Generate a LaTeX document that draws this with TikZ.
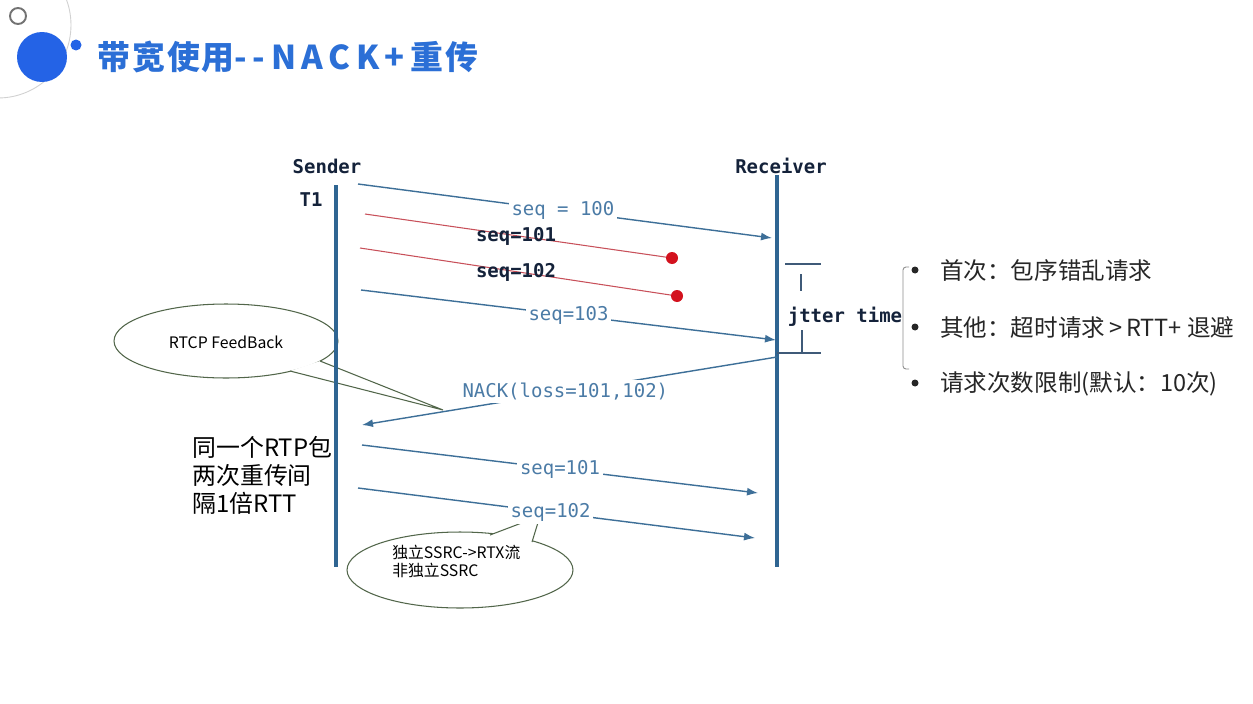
\documentclass[tikz,border=0pt]{standalone}
\usepackage{fontspec}
\setmainfont{Noto Sans CJK SC}
\newfontfamily\cjk{Noto Sans CJK SC}
\newfontfamily\titlecjk[LetterSpace=6]{Noto Sans CJK SC}
\newfontfamily\titlelat[LetterSpace=17]{Noto Sans CJK SC}
\newfontfamily\pix{DejaVu Sans Mono}
\newfontfamily\cons{DejaVu Sans Mono}
\usetikzlibrary{arrows.meta}
\definecolor{titleblue}{HTML}{2B6FD6}
\definecolor{dotblue}{HTML}{2463E6}
\definecolor{life}{HTML}{2F6592}
\definecolor{msg}{HTML}{3D6F98}
\definecolor{msgtxt}{HTML}{4B7BA6}
\definecolor{pixtxt}{HTML}{14223A}
\definecolor{redl}{HTML}{C8505A}
\definecolor{redd}{HTML}{D3121E}
\definecolor{calloutc}{HTML}{52664A}
\definecolor{jit}{HTML}{3F5A78}
\begin{document}
\begin{tikzpicture}[x=0.02cm,y=-0.02cm,
  msgarrow/.style={draw=msg, line width=0.8pt, -{Latex[length=2.2mm,width=1.6mm]}},
  msglabel/.style={fill=white, inner sep=1.5pt, text=msgtxt, font=\cons\fontsize{10.8}{12}\selectfont},
  pixlabel/.style={inner sep=0pt, text=pixtxt, font=\pix\bfseries\fontsize{10.8}{12}\selectfont},
  lost/.style={draw=redl, line width=0.6pt},
  lostdot/.style={circle, fill=redd, minimum size=0.24cm, inner sep=0pt},
  lifeline/.style={draw=life, line width=2.2pt},
  calloutline/.style={draw=calloutc, line width=0.6pt},
  jitline/.style={draw=jit, line width=0.6pt},
  bullettext/.style={anchor=west, inner sep=0pt, font=\cjk\fontsize{13.4}{15}\selectfont, text=black!85},
  bulletdot/.style={circle, fill=black!85, minimum size=0.14cm, inner sep=0pt},
  calltext/.style={inner sep=0pt, font=\cjk\fontsize{9}{10.3}\selectfont, text=black},
]
% canvas
\fill[white] (0,0) rectangle (1253,703);
\useasboundingbox (0,0) rectangle (1253,703);

% decoration
\draw[black!18, line width=0.5pt] (-2,25) circle[radius=1.46cm];
\draw[black!55, line width=1.1pt] (18,16) circle[radius=0.16cm];
\fill[dotblue] (42,57) circle[radius=0.5cm];
\fill[dotblue] (76,45) circle[radius=0.11cm];

% title
\node[anchor=west, inner sep=0pt, text=titleblue] (title) at (97,57)
  {\titlecjk\bfseries\fontsize{18.7}{20}\selectfont 带宽使用{\titlelat\bfseries --NACK+}\kern3pt 重传};

% callout RTCP FeedBack
\coordinate (r1) at (320,361);
\coordinate (r2) at (290,371);
\coordinate (rtip) at (443,410);
\draw[calloutline, fill=white] (226,341) ellipse[x radius=2.24cm, y radius=0.74cm];
\fill[white] (r1) -- (rtip) -- (r2) -- cycle;
\draw[calloutline] (r1) -- (rtip) -- (r2);
\node[calltext] (rtcp) at (226,342) {RTCP FeedBack};

% callout SSRC
\coordinate (s1) at (490,535);
\coordinate (s2) at (532,542);
\coordinate (stip) at (540,516);
\draw[calloutline, fill=white] (460,570) ellipse[x radius=2.26cm, y radius=0.76cm];
\fill[white] (s1) -- (stip) -- (s2) -- cycle;
\draw[calloutline] (s1) -- (stip) -- (s2);
\node[calltext, anchor=west, align=left] (ssrc) at (392,561) {独立SSRC->RTX流\\非独立SSRC};

% actors
\node[pixlabel] (sender) at (327,166) {Sender};
\node[pixlabel] (receiver) at (781,166) {Receiver};
\node[pixlabel] (t1) at (311,200) {T1};

\coordinate (sTop) at (336,185);
\coordinate (sBot) at (336,567);
\coordinate (rTop) at (777,175);
\coordinate (rBot) at (777,567);
\draw[lifeline] (sTop) -- (sBot);
\draw[lifeline] (rTop) -- (rBot);

% messages
\coordinate (a100) at (358,184);  \coordinate (b100) at (772,238);
\coordinate (a101) at (365,214);  \coordinate (b101) at (672,258);
\coordinate (a102) at (360,248);  \coordinate (b102) at (677,296);
\coordinate (a103) at (361,290);  \coordinate (b103) at (776,340);
\coordinate (aN)   at (777,357);  \coordinate (bN)   at (362,425);
\coordinate (a101r) at (362,445); \coordinate (b101r) at (758,493);
\coordinate (a102r) at (358,488); \coordinate (b102r) at (755,538);

\draw[msgarrow] (a100) -- node[msglabel, pos=0.495] (l100) {seq = 100} (b100);
\draw[lost] (a101) -- (b101);
\node[lostdot] (d101) at (b101) {};
\node[pixlabel] (l101) at (516,236) {seq=101};
\draw[lost] (a102) -- (b102);
\node[lostdot] (d102) at (b102) {};
\node[pixlabel] (l102) at (516,272) {seq=102};
\draw[msgarrow] (a103) -- node[msglabel, pos=0.5] (l103) {seq=103} (b103);
\draw[msgarrow] (aN) -- node[msglabel, pos=0.51] (lN) {NACK(loss=101,102)} (bN);
\draw[msgarrow] (a101r) -- node[msglabel, pos=0.5] (l101r) {seq=101} (b101r);
\draw[msgarrow] (a102r) -- node[msglabel, pos=0.485] (l102r) {seq=102} (b102r);

% jitter time
\coordinate (j1a) at (785,264); \coordinate (j1b) at (821,264);
\coordinate (j2a) at (801,274); \coordinate (j2b) at (801,291);
\coordinate (j3a) at (802,330); \coordinate (j3b) at (802,352);
\coordinate (j4a) at (777,353); \coordinate (j4b) at (821,353);
\draw[jitline] (j1a) -- (j1b);
\draw[jitline] (j2a) -- (j2b);
\draw[jitline] (j3a) -- (j3b);
\draw[jitline] (j4a) -- (j4b);
\node[pixlabel] (jit) at (845,317) {jtter time};

% bracket
\coordinate (bt) at (909,267);
\coordinate (bb) at (909,369);
\draw[black!45, line width=0.5pt] (bt) -- (906,267) to[out=180,in=90] (903,270) -- (903,366) to[out=-90,in=180] (906,369) -- (bb);

% bullets
\node[bulletdot] (bu1) at (915,270) {};
\node[bulletdot] (bu2) at (915,327) {};
\node[bulletdot] (bu3) at (915,383) {};
\node[bullettext] (tx1) at (940,271) {首次：包序错乱请求};
\node[bullettext] (tx2) at (940,328) {其他：超时请求\,>\,RTT+ 退避};
\node[bullettext] (tx3) at (940,384) {请求次数限制(默认：10次)};

% note
\node[anchor=west, align=left, inner sep=0pt, font=\cjk\fontsize{13.6}{15.9}\selectfont, text=black] (note) at (192,475)
  {同一个RTP包\\两次重传间\\隔1倍RTT};
\end{tikzpicture}
\end{document}
